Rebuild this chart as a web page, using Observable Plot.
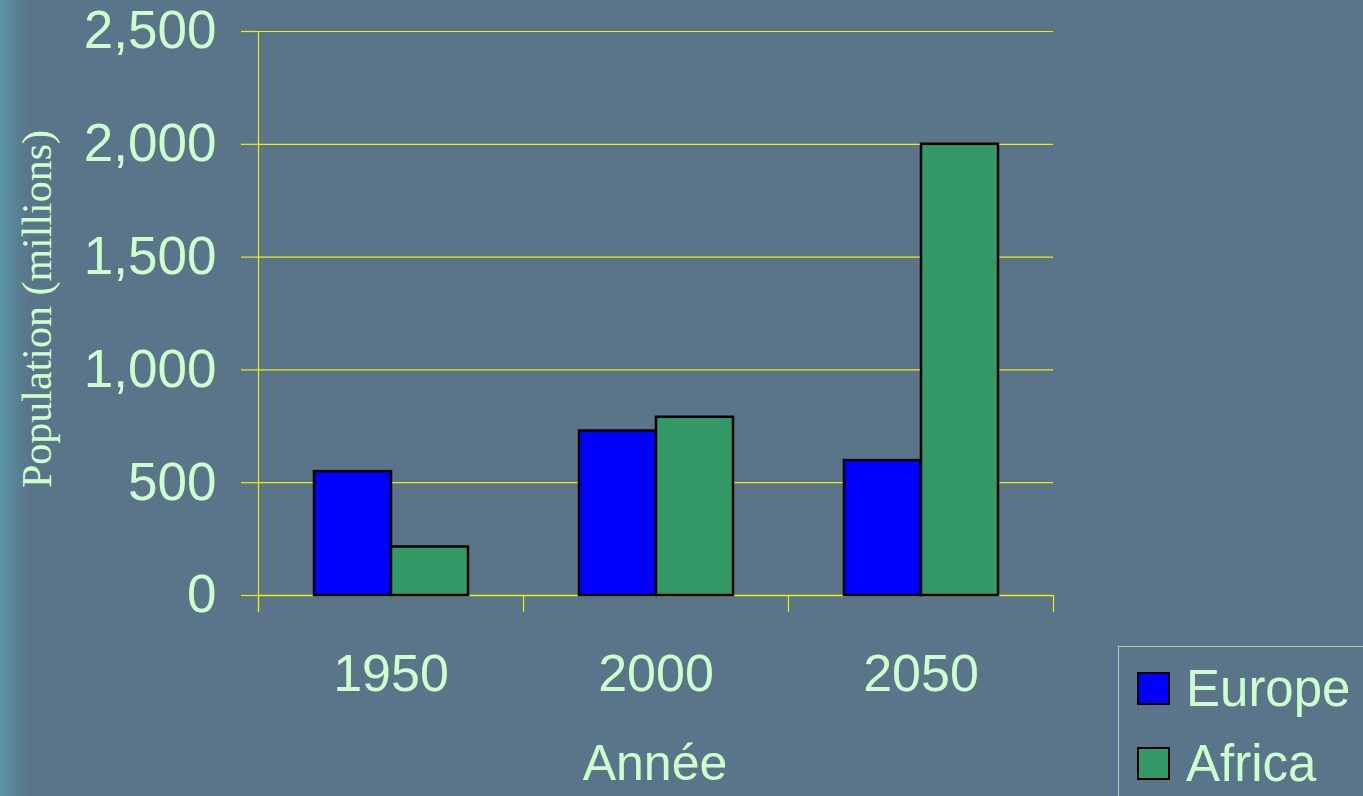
<!DOCTYPE html>
<html>
<head>
<meta charset="utf-8">
<script src="https://cdn.jsdelivr.net/npm/d3@7"></script>
<script src="https://cdn.jsdelivr.net/npm/@observablehq/plot@0.6"></script>
<style>
  html, body { margin: 0; padding: 0; }
  body {
    width: 1363px; height: 796px; overflow: hidden;
    background: linear-gradient(to right, #5a97aa 0px, #5a8599 12px, #5a7589 28px, #5a7589 100%);
    font-family: "Liberation Sans", Arial, sans-serif;
    position: relative;
  }
  #chart { position: absolute; left: 0; top: 0; }
  .ylabel {
    position: absolute; left: 37px; top: 309px;
    transform: translate(-50%, -50%) rotate(-90deg);
    font-family: "Liberation Serif", "Times New Roman", serif;
    font-size: 42px; color: #ccffcc; white-space: nowrap; line-height: 1;
  }
  .xlabel {
    position: absolute; left: 655px; top: 738px; transform: translateX(-50%);
    font-size: 50px; line-height: 50px; color: #ccffcc; white-space: nowrap;
  }
  .legend {
    position: absolute; left: 1118px; top: 646px; width: 270px; height: 170px;
    border: 1px solid #a9d6b2; box-sizing: border-box;
  }
  .item { position: absolute; left: 18px; font-size: 51px; line-height: 51px; color: #ccffcc; white-space: nowrap; }
  .sw { display: inline-block; width: 29px; height: 29px; border: 2.5px solid #000; vertical-align: top; margin-top: 9px; margin-right: 16px; }
</style>
</head>
<body>
<div id="chart"></div>
<div class="ylabel">Population (millions)</div>
<div class="xlabel">Année</div>
<div class="legend" id="legend"></div>
<script>
const years = ["1950", "2000", "2050"];
const series = ["Europe", "Africa"];
const europe = [549, 729, 598];
const africa = [215, 790, 2000];
const colors = ["#0000ff", "#339966"];
const yTicks = [0, 500, 1000, 1500, 2000, 2500];

const rows = [];
years.forEach((yr, i) => {
  rows.push({year: yr, series: "Europe", value: europe[i]});
  rows.push({year: yr, series: "Africa", value: africa[i]});
});

const grid = "#f0f000";
const txt = "#ccffcc";

const plot = Plot.plot({
  width: 1363,
  height: 796,
  marginLeft: 257,
  marginRight: 310,
  marginTop: 31,
  marginBottom: 201,
  style: {background: "transparent", fontFamily: "'Liberation Sans', Arial, sans-serif"},
  fx: {domain: years, padding: 0, axis: null},
  x: {domain: series, paddingInner: 0, paddingOuter: 0.7, axis: null},
  y: {domain: [0, 2500], axis: null},
  color: {domain: series, range: colors},
  marks: [
    Plot.gridY(yTicks, {stroke: grid, strokeOpacity: 1, strokeWidth: 1.2}),
    Plot.axisY(yTicks, {tickFormat: d3.format(","), tickSize: 17, tickPadding: 25, fontSize: 53, stroke: grid, strokeOpacity: 1, strokeWidth: 1.2, fill: txt, label: null}),
    Plot.axisFx({anchor: "bottom", tickSize: 0, tickPadding: 59, fontSize: 52, fill: txt, label: null}),
    Plot.frame({anchor: "left", stroke: grid, strokeWidth: 1.2, insetTop: 564, insetBottom: -16}),
    Plot.frame({anchor: "right", facetAnchor: "right", stroke: grid, strokeWidth: 1.2, insetTop: 564, insetBottom: -16}),
    Plot.frame({anchor: "left", facetAnchor: "left", stroke: grid, strokeWidth: 1.2, insetBottom: -16}),
    Plot.ruleY([0], {stroke: grid, strokeWidth: 1.5}),
    Plot.barY(rows, {fx: "year", x: "series", y: "value", fill: "series", stroke: "#000", strokeWidth: 2.5})
  ]
});
document.getElementById("chart").appendChild(plot);

const legend = document.getElementById("legend");
series.forEach((s, i) => {
  const d = document.createElement("div");
  d.className = "item";
  d.style.top = (16 + i * 75) + "px";
  d.innerHTML = `<span class="sw" style="background:${colors[i]}"></span>${s}`;
  legend.appendChild(d);
});
</script>
</body>
</html>
